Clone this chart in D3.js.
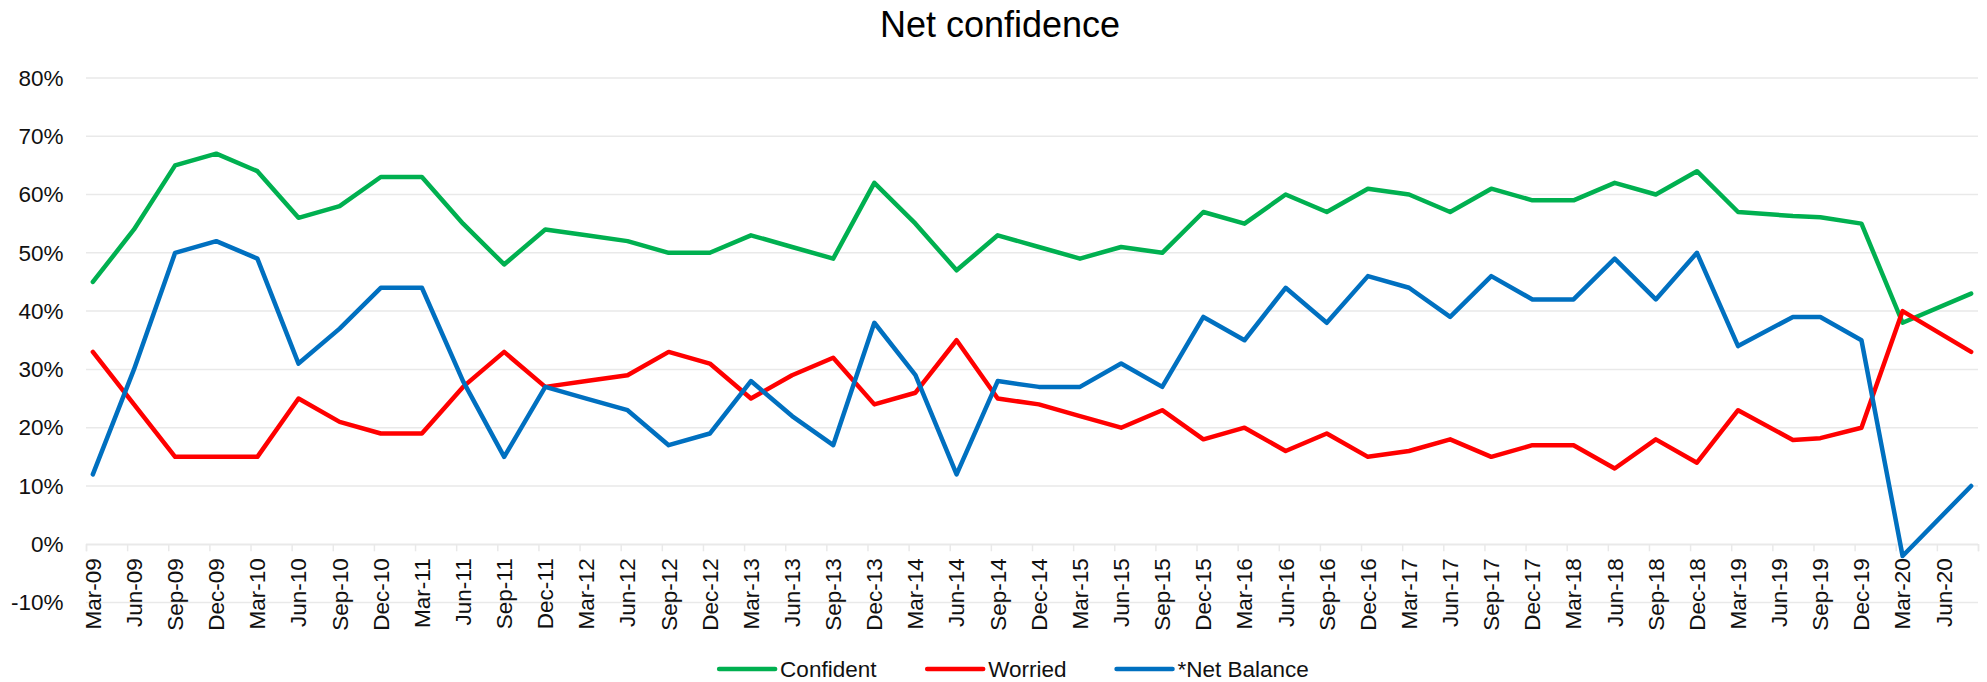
<!DOCTYPE html>
<html>
<head>
<meta charset="utf-8">
<script src="https://cdn.jsdelivr.net/npm/d3@7"></script>
<style>
  html, body { margin: 0; padding: 0; background: #fff; }
  svg { display: block; font-family: "Liberation Sans", Arial, sans-serif; }
</style>
</head>
<body>
<svg id="chart" width="1987" height="682"></svg>
<script>
// ---- data ----
const dates = [
  "2009-03","2009-06","2009-09","2009-12",
  "2010-03","2010-06","2010-09","2010-12",
  "2011-03","2011-06","2011-09","2011-12",
  "2012-03","2012-06","2012-09","2012-12",
  "2013-03","2013-06","2013-09","2013-12",
  "2014-03","2014-06","2014-09","2014-12",
  "2015-03","2015-06","2015-09","2015-12",
  "2016-03","2016-06","2016-09","2016-12",
  "2017-03","2017-06","2017-09","2017-12",
  "2018-03","2018-06","2018-09","2018-12",
  "2019-03","2019-07","2019-09","2019-12",
  "2020-03","2020-08"
];
const confident = [
  45, 54, 65, 67,
  64, 56, 58, 63,
  63, 55, 48, 54,
  53, 52, 50, 50,
  53, 51, 49, 62,
  55, 47, 53, 51,
  49, 51, 50, 57,
  55, 60, 57, 61,
  60, 57, 61, 59,
  59, 62, 60, 64,
  57, 56.3, 56.1, 55,
  38, 43
];
const worried = [
  33, 24, 15, 15,
  15, 25, 21, 19,
  19, 27, 33, 27,
  28, 29, 33, 31,
  25, 29, 32, 24,
  26, 35, 25, 24,
  22, 20, 23, 18,
  20, 16, 19, 15,
  16, 18, 15, 17,
  17, 13, 18, 14,
  23, 17.9, 18.2, 20,
  40, 33
];
const netBalance = [
  12, 30, 50, 52,
  49, 31, 37, 44,
  44, 28, 15, 27,
  25, 23, 17, 19,
  28, 22, 17, 38,
  29, 12, 28, 27,
  27, 31, 27, 39,
  35, 44, 38, 46,
  44, 39, 46, 42,
  42, 49, 42, 50,
  34, 39, 39, 35,
  -2, 10
];
const seriesNames = ["Confident", "Worried", "*Net Balance"];
const seriesColors = ["#00B050", "#FF0000", "#0070C0"];
const yTicks = [-10, 0, 10, 20, 30, 40, 50, 60, 70, 80];
const axisStart = "2009-03";
const axisEnd = "2020-09";
const titleText = "Net confidence";

// ---- setup ----
const svg = d3.select("#chart");
const parse = d3.utcParse("%Y-%m");
const fmt = d3.utcFormat("%b-%y");
const t0 = parse(axisStart), t1 = parse(axisEnd);
const monthIdx = d => d3.utcMonth.count(t0, d);
const nMonths = monthIdx(t1);

const left = 86, right = 1978;
const x = d3.scaleLinear().domain([0, nMonths]).range([left, right]);
const y = d3.scaleLinear().domain([-10, 80]).range([602.6, 77.9]);

const FONT = 22.5;
const GRID = "#e9e9e9";

// gridlines
svg.append("g").selectAll("line").data(yTicks).join("line")
  .attr("x1", left).attr("x2", right)
  .attr("y1", d => y(d)).attr("y2", d => y(d))
  .attr("stroke", GRID).attr("stroke-width", 1.5);

// y axis labels
const yAxis = d3.axisLeft(y).tickValues(yTicks).tickFormat(d => d + "%")
  .tickSize(0).tickPadding(22.5);
const gy = svg.append("g").attr("transform", `translate(${left},0)`).call(yAxis);
gy.select(".domain").remove();
gy.selectAll("text").attr("font-size", FONT).attr("fill", "#111")
  .attr("font-family", "Liberation Sans, Arial, sans-serif");

// x axis ticks (quarterly, at month-slot edges)
const tickMonths = d3.utcMonth.range(t0, d3.utcMonth.offset(t1, 1), 3);
const xAxis = d3.axisBottom(x).tickValues(tickMonths.map(monthIdx))
  .tickSize(7).tickFormat("");
const gx = svg.append("g").attr("transform", `translate(0,${y(0)})`).call(xAxis);
gx.select(".domain").attr("stroke", GRID).attr("stroke-width", 1.5);
gx.selectAll(".tick line").attr("stroke", GRID).attr("stroke-width", 1.5);

// x labels (centered on first month slot of each quarter)
const labelMonths = tickMonths.filter(d => d < t1);
svg.append("g").selectAll("text").data(labelMonths).join("text")
  .attr("transform", d => `translate(${x(monthIdx(d) + 0.5)},${y(0) + 14}) rotate(-90)`)
  .attr("text-anchor", "end")
  .attr("dy", "0.35em")
  .attr("font-size", FONT).attr("fill", "#111")
  .text(d => fmt(d));

// lines
const seriesData = [confident, worried, netBalance];
const line = d3.line()
  .x((d, i) => x(monthIdx(parse(dates[i])) + 0.5))
  .y(d => y(d));
svg.append("g").selectAll("path").data(seriesData).join("path")
  .attr("d", d => line(d))
  .attr("fill", "none")
  .attr("stroke", (d, i) => seriesColors[i])
  .attr("stroke-width", 4.5)
  .attr("stroke-linejoin", "round")
  .attr("stroke-linecap", "round");

// title
svg.append("text")
  .attr("x", 1000).attr("y", 36.7)
  .attr("text-anchor", "middle")
  .attr("font-size", 36).attr("fill", "#000")
  .text(titleText);

// legend
const legY = 669;
const lineLen = 56, gap = 5, itemGap = 50;
const legend = svg.append("g");
const items = legend.selectAll("g").data(seriesNames).join("g");
items.append("line")
  .attr("x1", 0).attr("x2", lineLen).attr("y1", 0).attr("y2", 0)
  .attr("stroke", (d, i) => seriesColors[i])
  .attr("stroke-width", 4.5).attr("stroke-linecap", "round");
items.append("text")
  .attr("x", lineLen + gap).attr("dy", "0.35em")
  .attr("font-size", FONT).attr("fill", "#111")
  .text(d => d);
let widths = [];
items.each(function() { widths.push(this.getBBox().width); });
const total = d3.sum(widths) + itemGap * (widths.length - 1);
let cx = 1014 - total / 2;
items.attr("transform", (d, i) => {
  const tx = cx; cx += widths[i] + itemGap;
  return `translate(${tx},${legY})`;
});
</script>
</body>
</html>
